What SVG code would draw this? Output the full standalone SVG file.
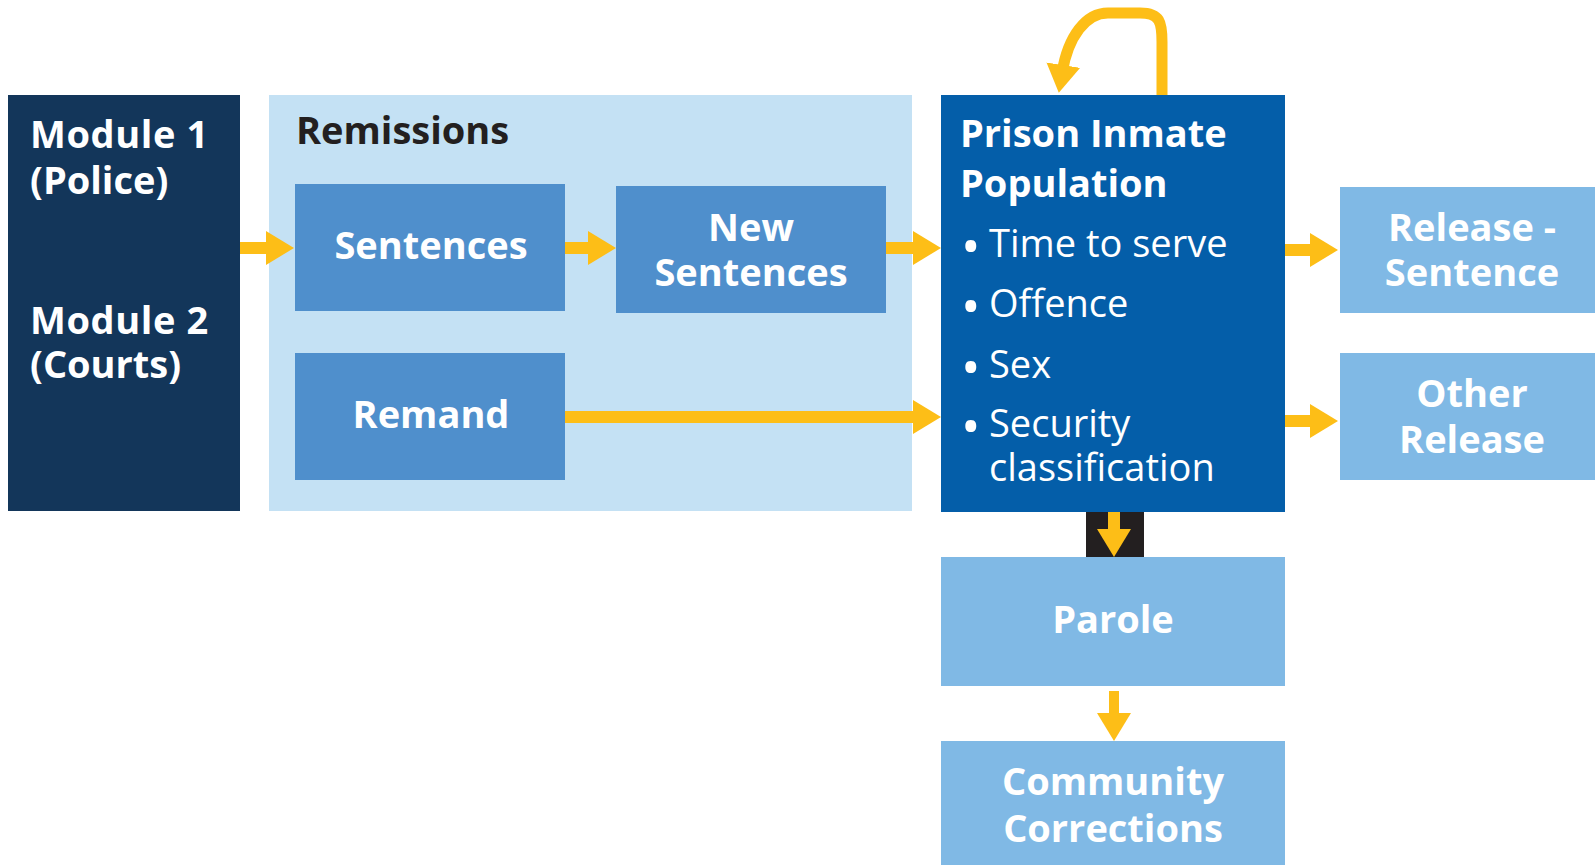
<svg xmlns="http://www.w3.org/2000/svg" width="1595" height="865" viewBox="0 0 1595 865">
  <style>
    .t { font-family: "Open Sans", "Liberation Sans", sans-serif; font-size: 38px; }
    .b { font-weight: bold; }
    .w { fill: #ffffff; }
    .d { fill: #231f20; }
    .c { text-anchor: middle; }
    .bul { font-size: 52px; }
    .arrow { stroke: #fdbe17; stroke-width: 12; fill: none; marker-end: url(#head); }
  </style>
  <defs>
    <marker id="head" markerUnits="userSpaceOnUse" markerWidth="28" markerHeight="34" viewBox="0 0 28 34" refX="8" refY="17" orient="auto">
      <path d="M0,0 L28,17 L0,34 Z" fill="#fdbe17"/>
    </marker>
  </defs>
  <rect width="1595" height="865" fill="#ffffff"/>

  <g id="modules">
    <rect x="8" y="95" width="232" height="416" fill="#13365a"/>
    <text class="t b w" x="30" y="148" letter-spacing="0.6">Module 1</text>
    <text class="t b w" x="30" y="194">(Police)</text>
    <text class="t b w" x="30" y="334" letter-spacing="0.6">Module 2</text>
    <text class="t b w" x="30" y="378">(Courts)</text>
  </g>

  <g id="remissions">
    <rect x="269" y="95" width="643" height="416" fill="#c4e1f4"/>
    <text class="t b d" x="296" y="144">Remissions</text>
  </g>

  <g id="sentences">
    <rect x="295" y="184" width="270" height="127" fill="#4f8fcc"/>
    <text class="t b w c" x="431" y="259">Sentences</text>
  </g>

  <g id="remand">
    <rect x="295" y="353" width="270" height="127" fill="#4f8fcc"/>
    <text class="t b w c" x="431" y="428">Remand</text>
  </g>

  <g id="new-sentences">
    <rect x="616" y="186" width="270" height="127" fill="#4f8fcc"/>
    <text class="t b w c" x="751" y="241">New</text>
    <text class="t b w c" x="751" y="286">Sentences</text>
  </g>

  <g id="prison">
    <rect x="941" y="95" width="344" height="417" fill="#045ea9"/>
    <text class="t b w" x="960" y="147">Prison Inmate</text>
    <text class="t b w" x="960" y="197">Population</text>
    <text class="t w" x="961" y="257"><tspan class="bul" dy="8">•</tspan><tspan x="989" dy="-8">Time to serve</tspan></text>
    <text class="t w" x="961" y="317"><tspan class="bul" dy="8">•</tspan><tspan x="989" dy="-8">Offence</tspan></text>
    <text class="t w" x="961" y="378"><tspan class="bul" dy="8">•</tspan><tspan x="989" dy="-8">Sex</tspan></text>
    <text class="t w" x="961" y="437"><tspan class="bul" dy="8">•</tspan><tspan x="989" dy="-8">Security</tspan></text>
    <text class="t w" x="989" y="481">classification</text>
  </g>

  <g id="release-sentence">
    <rect x="1340" y="187" width="255" height="126" fill="#80b9e5"/>
    <text class="t b w c" x="1472" y="241">Release -</text>
    <text class="t b w c" x="1472" y="286">Sentence</text>
  </g>

  <g id="other-release">
    <rect x="1340" y="353" width="255" height="127" fill="#80b9e5"/>
    <text class="t b w c" x="1472" y="407">Other</text>
    <text class="t b w c" x="1472" y="453">Release</text>
  </g>

  <g id="parole">
    <rect x="1086" y="512" width="58" height="45" fill="#231f20"/>
    <rect x="941" y="557" width="344" height="129" fill="#80b9e5"/>
    <text class="t b w c" x="1113" y="633">Parole</text>
  </g>

  <g id="community-corrections">
    <rect x="941" y="741" width="344" height="124" fill="#80b9e5"/>
    <text class="t b w c" x="1113" y="795">Community</text>
    <text class="t b w c" x="1113" y="842">Corrections</text>
  </g>

  <g id="connectors">
    <line class="arrow" x1="240" y1="248" x2="274" y2="248"/>
    <line class="arrow" x1="565" y1="248" x2="596" y2="248"/>
    <line class="arrow" x1="886" y1="248" x2="921" y2="248"/>
    <line class="arrow" x1="565" y1="417" x2="921" y2="417"/>
    <line class="arrow" x1="1285" y1="250" x2="1318" y2="250"/>
    <line class="arrow" x1="1285" y1="421" x2="1318" y2="421"/>
    <line class="arrow" x1="1114" y1="512" x2="1114" y2="537"/>
    <line class="arrow" x1="1114" y1="691" x2="1114" y2="721" style="stroke-width:10"/>
    <path class="arrow" d="M1162,95 L1162,42 C1162,22 1160,13 1140,13 L1108,13 C1086,13 1068,36 1062,73" style="stroke-width:11"/>
  </g>
</svg>
